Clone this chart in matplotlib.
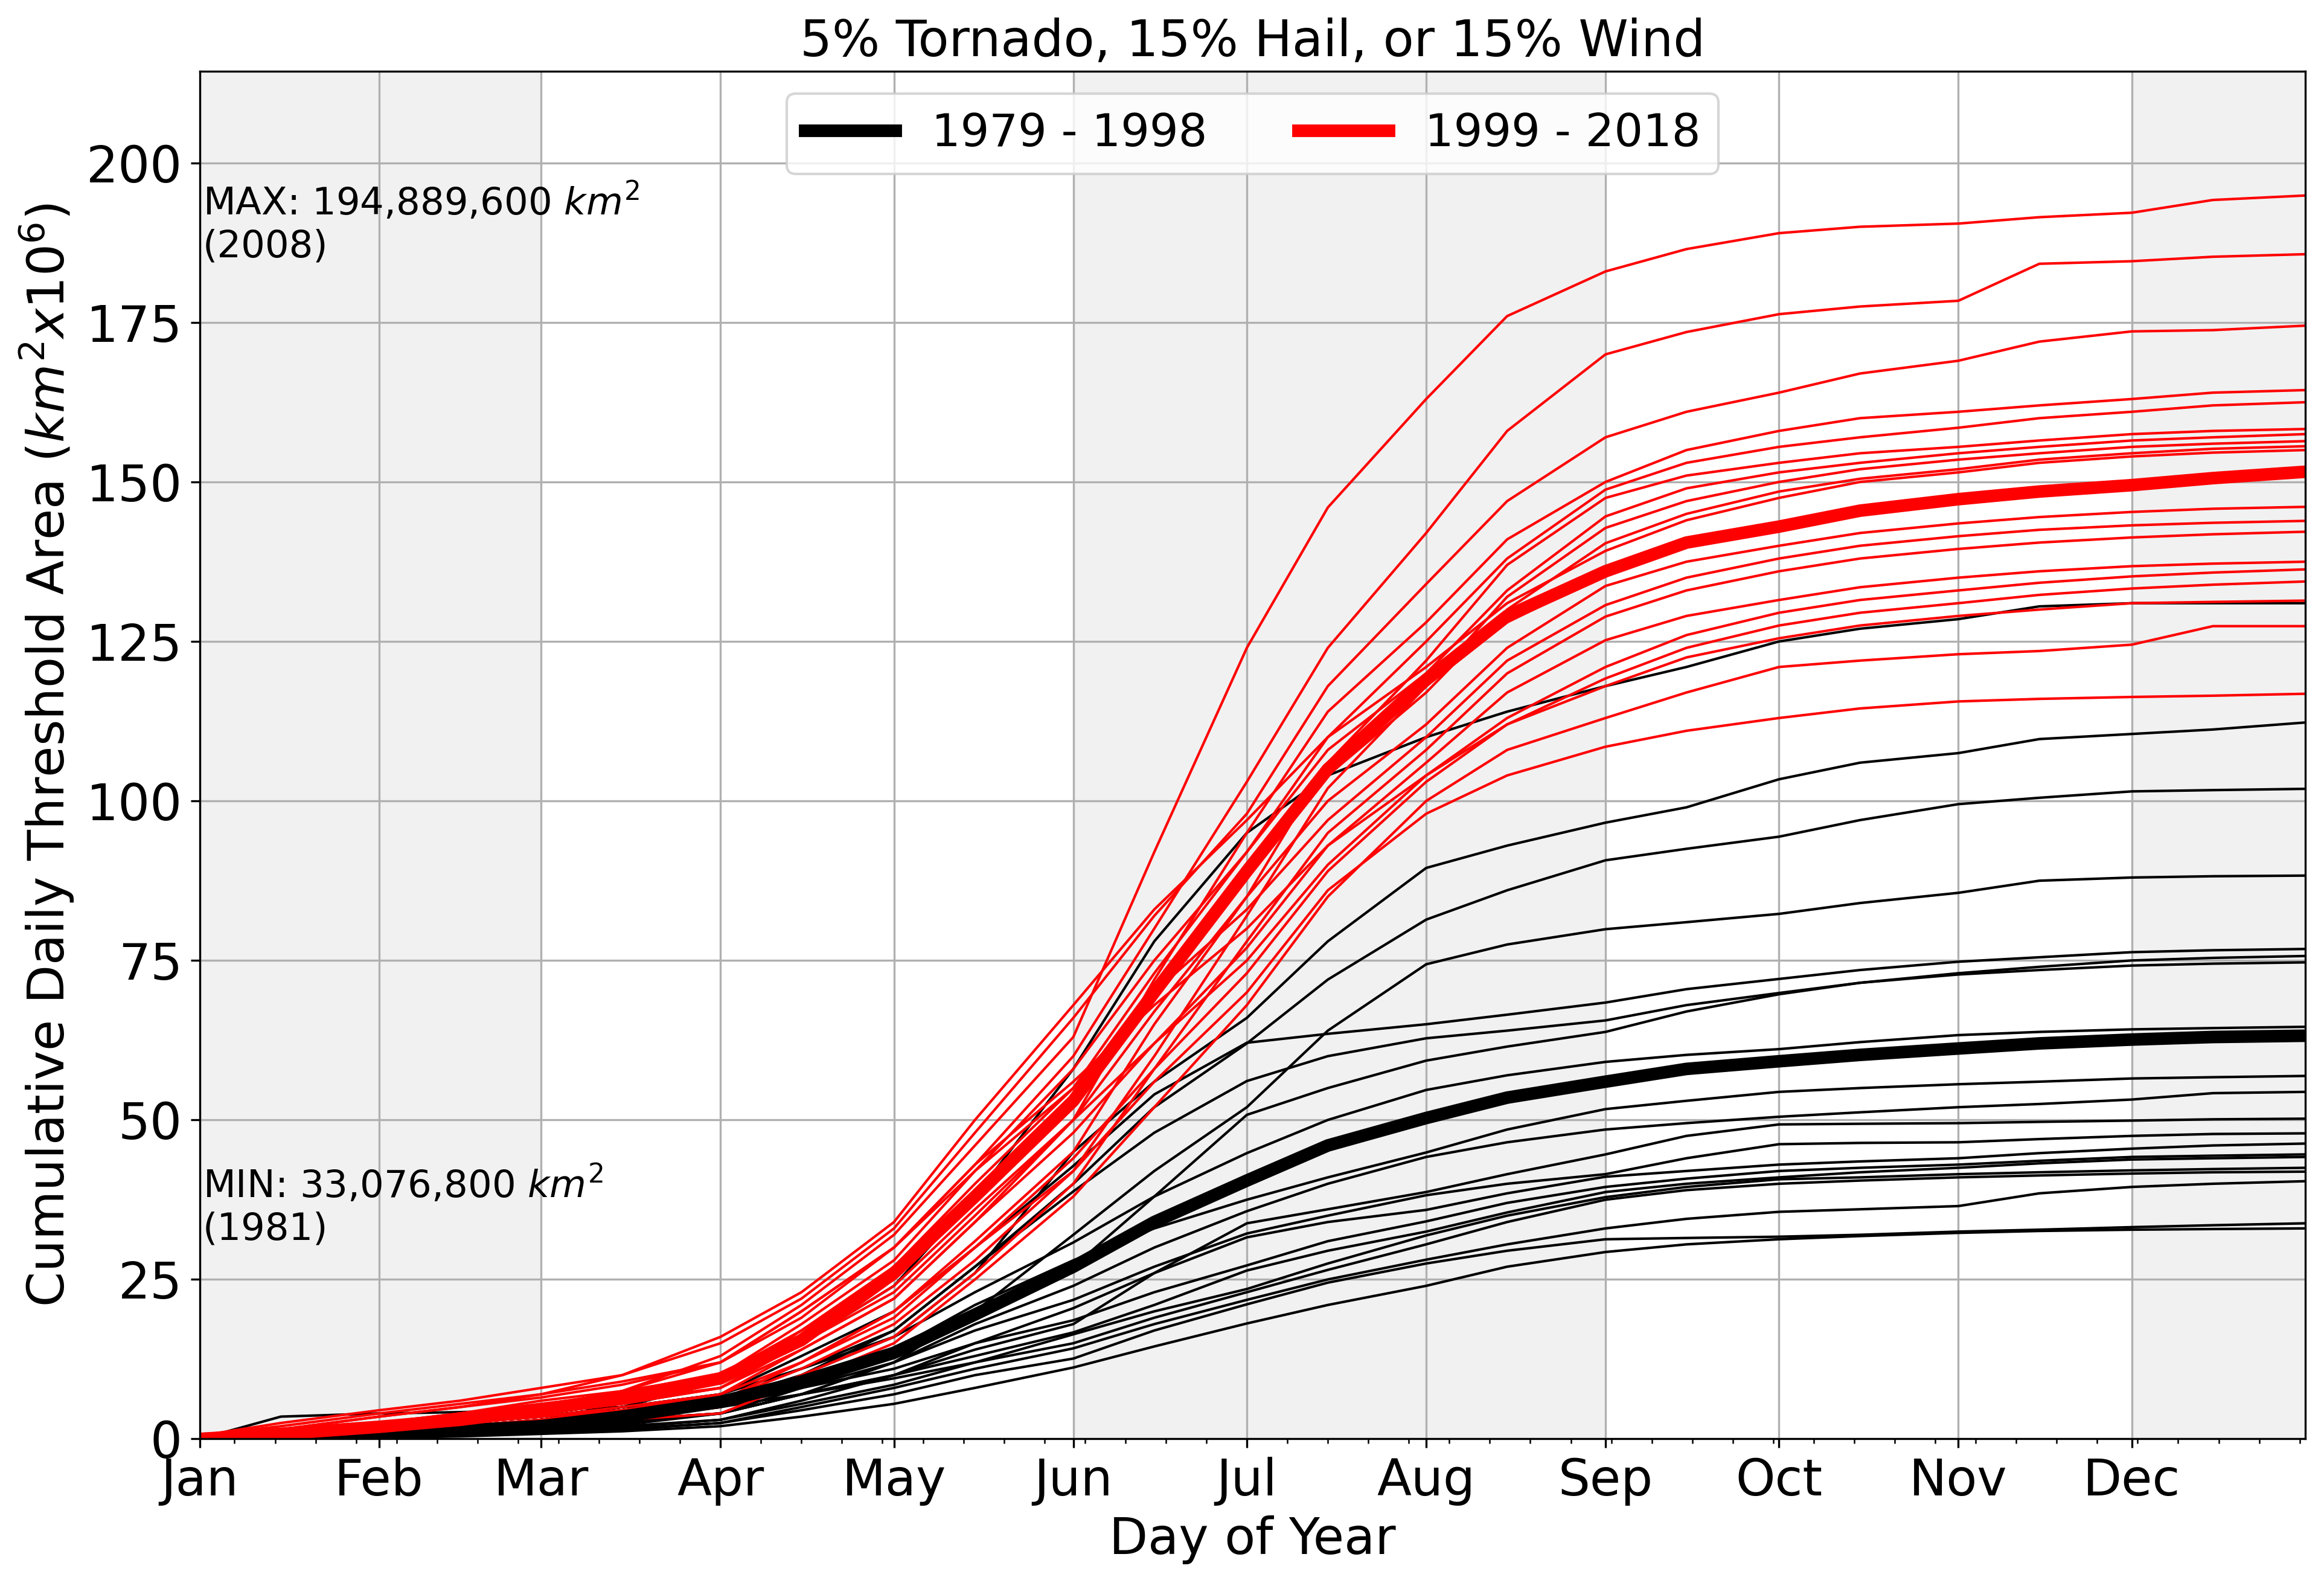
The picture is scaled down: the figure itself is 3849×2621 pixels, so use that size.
import matplotlib.pyplot as plt
from matplotlib.ticker import MultipleLocator

# day of year where each series is sampled (1st and mid of every month)
days = [1, 15, 32, 46, 60, 74, 91, 105, 121, 135, 152, 166, 182, 196,
        213, 227, 244, 258, 274, 288, 305, 319, 335, 349, 365]

month_days = [1, 32, 60, 91, 121, 152, 182, 213, 244, 274, 305, 335]
month_labels = ['Jan', 'Feb', 'Mar', 'Apr', 'May', 'Jun',
                'Jul', 'Aug', 'Sep', 'Oct', 'Nov', 'Dec']
shaded = [(1, 60), (152, 244), (335, 365)]

# 1979 - 1998 (km^2 x 10^6)
b01 = [0, 0.3, 1.0, 2.0, 3.0, 5.0, 9, 15, 24, 38, 58, 78, 95, 104, 110, 114, 118, 121, 125, 127, 128.5, 130.5, 131, 131, 131.0]
b02 = [0, 0.2, 0.6, 1.2, 2.0, 3.5, 6, 10, 16, 26, 45, 56, 66, 78, 89.5, 93, 96.6, 99, 103.4, 106, 107.5, 109.7, 110.5, 111.2, 112.3]
b03 = [0, 0.5, 1.5, 2.5, 3.5, 5.0, 7, 11, 17, 27, 40, 52, 62, 72, 81.4, 86, 90.7, 92.5, 94.4, 97, 99.5, 100.5, 101.5, 101.7, 101.9]
b04 = [0, 0.1, 0.4, 0.8, 1.5, 2.5, 4, 7, 12, 20, 32, 42, 52, 64, 74.4, 77.5, 79.9, 81, 82.3, 84, 85.6, 87.5, 88, 88.2, 88.3]
b05 = [0, 0.3, 1.0, 2.0, 3.0, 4.5, 7, 13, 20, 30, 42.8, 54, 62.1, 63.5, 65, 66.5, 68.4, 70.5, 72.1, 73.5, 74.8, 75.5, 76.3, 76.6, 76.8]
b06 = [0, 0.2, 0.6, 1.2, 2.0, 3.5, 6, 10, 17, 27, 38.8, 48, 56.1, 60, 62.8, 64, 65.6, 68, 69.9, 71.5, 73, 74, 75, 75.4, 75.7]
b07 = [0, 0.1, 0.3, 0.6, 1.2, 2.2, 4, 8, 13, 19, 27, 38, 50.8, 55, 59.3, 61.5, 63.8, 67, 69.7, 71.5, 72.8, 73.5, 74.2, 74.5, 74.7]
b08 = [0, 0.5, 1.5, 2.5, 3.5, 5.0, 7, 11, 16, 23, 30.8, 38, 44.8, 50, 54.7, 57, 59.1, 60.2, 61.1, 62.2, 63.3, 63.8, 64.2, 64.4, 64.6]
b09 = [0, 0.2, 0.5, 1.0, 1.8, 3.0, 5, 9, 14, 21, 28, 33, 37.5, 41, 44.9, 48.5, 51.7, 53, 54.4, 55, 55.6, 56, 56.5, 56.7, 56.9]
b10 = [0, 0.1, 0.3, 0.7, 1.2, 2.5, 4, 7, 12, 18, 24, 30, 35.7, 40, 44.2, 46.5, 48.5, 49.5, 50.5, 51.2, 52, 52.5, 53.2, 54.2, 54.4]
b11 = [0, 0.2, 0.5, 1.0, 2.0, 3.0, 4, 7, 10, 14, 18, 26, 33.8, 36, 38.7, 41.5, 44.6, 47.5, 49.3, 49.4, 49.5, 49.7, 49.9, 50.1, 50.2]
b12 = [0, 0.3, 0.8, 1.5, 2.5, 3.5, 5, 8, 12, 17, 21.8, 27, 32.2, 35, 38.2, 40, 41.5, 44, 46.2, 46.4, 46.5, 47, 47.5, 47.8, 47.9]
b13 = [0, 0.1, 0.3, 0.6, 1.0, 2.0, 3, 6, 10, 15, 20.5, 26, 31.6, 34, 35.9, 38.5, 41.1, 42, 43, 43.5, 44, 44.8, 45.5, 46, 46.3]
b14 = [0, 3.5, 4.0, 4.2, 4.5, 5.0, 6, 8, 11, 15, 18.6, 23, 27.2, 31, 34.1, 37, 39.5, 40.8, 42, 42.5, 43, 43.6, 44.2, 44.4, 44.6]
b15 = [0, 0.2, 0.6, 1.2, 2.0, 3.0, 4, 7, 10, 13, 16.7, 21, 26.4, 29.5, 32.5, 35.5, 38.7, 40, 41, 41.8, 42.5, 43.2, 43.8, 44, 44.2]
b16 = [0, 0.1, 0.3, 0.6, 1.0, 1.8, 3, 5.5, 8.5, 12, 16.4, 20, 23.5, 27.5, 31.9, 35, 37.9, 39.5, 40.7, 41, 41.5, 41.8, 42.1, 42.3, 42.5]
b17 = [0, 0.3, 1.0, 1.8, 2.5, 3.5, 5, 7, 9.5, 12, 15, 19, 23, 26.5, 30.5, 34, 37.5, 39, 40, 40.5, 41, 41.3, 41.6, 41.8, 41.9]
b18 = [0, 0.1, 0.2, 0.5, 1.0, 1.5, 2.5, 5, 8, 11, 14.2, 18, 21.8, 25, 28.1, 30.5, 33, 34.5, 35.6, 36, 36.5, 38.5, 39.5, 40, 40.4]
b19 = [0, 0.1, 0.3, 0.6, 1.0, 1.5, 2.5, 4.5, 7, 10, 12.6, 17, 21.1, 24.5, 27.5, 29.5, 31.3, 31.5, 31.7, 32, 32.5, 32.8, 33.2, 33.5, 33.8]
b20 = [0, 0.1, 0.2, 0.4, 0.8, 1.2, 2, 3.5, 5.5, 8, 11.2, 14.5, 18.1, 21, 24, 27, 29.3, 30.5, 31.3, 31.8, 32.3, 32.6, 32.8, 32.9, 33.0]
black_mean = [0, 0.3, 0.8, 1.3, 2.0, 3.5, 5.8, 9, 13.5, 19.5, 27, 34, 40.5, 46, 50.3, 53.5, 56, 58, 59.2, 60.2, 61.2, 62, 62.6, 63, 63.2]

# 1999 - 2018
r01 = [0, 1.0, 2.5, 3.5, 5.0, 7.5, 13, 21, 32, 46, 63, 92, 124, 146, 163, 176, 183, 186.5, 189, 190, 190.5, 191.5, 192.2, 194.2, 194.9]
r02 = [0, 0.5, 2.0, 3.0, 4.5, 7.5, 12, 19, 30, 43, 60, 80, 103, 124, 142, 158, 170, 173.5, 176.3, 177.5, 178.4, 184.2, 184.6, 185.3, 185.7]
r03 = [0.5, 2.0, 4.0, 5.5, 7.0, 10, 15, 22, 33, 48, 66, 82, 98, 118, 134, 147, 157, 161, 164, 167, 169, 172, 173.6, 173.8, 174.5]
r04 = [0, 0.5, 1.5, 3.0, 4.0, 5.5, 8, 14, 22, 34, 50, 72, 95, 114, 128, 141, 150, 155, 158, 160, 161, 162, 163, 164, 164.4]
r05 = [0, 1.0, 2.5, 4.0, 6.0, 7.5, 10, 18, 28, 42, 58, 75, 92, 110, 125, 138, 148.8, 153, 155.5, 157, 158.5, 160, 161, 162, 162.5]
r06 = [0, 0.3, 1.0, 2.0, 3.0, 4.5, 7, 12, 20, 31, 45, 65, 85, 106, 122, 137, 147.5, 151, 153, 154.5, 155.5, 156.5, 157.5, 158, 158.3]
r07 = [0, 1.5, 3.5, 5.0, 7.0, 9.0, 12, 20, 30, 42, 55, 73, 92, 108, 120, 133, 144.6, 149, 151.5, 153, 154.5, 155.5, 156.5, 157, 157.5]
r08 = [0, 0.2, 0.8, 1.5, 2.5, 4.0, 6, 11, 18, 28, 42, 60, 82, 102, 118, 132, 142.8, 147, 150, 152, 153.5, 154.5, 155.5, 156, 156.4]
r09 = [0, 0.8, 2.0, 3.5, 5.0, 6.5, 9, 16, 25, 37, 52, 70, 88, 104, 117, 130, 140.4, 145, 148.5, 150.5, 152, 153.5, 154.5, 155.2, 155.6]
r10 = [0.5, 2.5, 4.5, 6.0, 8.0, 10, 16, 23, 34, 50, 68, 83, 97, 110, 121, 131, 139.2, 144, 147.5, 150, 151.5, 153, 154, 154.6, 155.0]
r11 = [0, 0.8, 1.8, 3.0, 4.5, 6.5, 10, 17, 26, 39, 53, 71, 89, 105, 118, 128, 135.5, 140, 143, 145.5, 147, 148.5, 149.5, 150.3, 151.0]
r12 = [0, 0.5, 1.5, 2.5, 4.0, 5.5, 8, 15, 24, 36, 50, 67, 85, 100, 112, 124, 133.7, 137.5, 140, 142, 143.5, 144.5, 145.3, 145.8, 146.1]
r13 = [0, 1.0, 2.5, 4.0, 5.5, 7.0, 9, 17, 27, 40, 55, 70, 83, 97, 110, 122, 130.7, 135, 138, 140, 141.5, 142.5, 143.2, 143.6, 143.9]
r14 = [0, 0.2, 0.5, 1.0, 2.0, 3.0, 5, 10, 16, 26, 40, 58, 78, 95, 108, 120, 128.9, 133, 136, 138, 139.5, 140.5, 141.3, 141.8, 142.2]
r15 = [0, 0.5, 1.5, 2.5, 3.5, 5.0, 7, 14, 22, 34, 48, 62, 77, 93, 106, 117, 125.2, 129, 131.5, 133.5, 135, 136, 136.8, 137.2, 137.5]
r16 = [0.3, 1.5, 3.5, 5.0, 6.5, 8.5, 12, 20, 30, 43, 56, 68, 80, 93, 104, 113, 121, 126, 129.5, 131.5, 133, 134.2, 135.2, 135.8, 136.3]
r17 = [0, 0.3, 1.0, 2.0, 3.0, 4.5, 6, 12, 19, 30, 44, 58, 73, 89, 103, 112, 119.2, 124, 127.5, 129.5, 131, 132.3, 133.3, 133.9, 134.4]
r18 = [0, 0.5, 1.5, 3.0, 4.5, 6.0, 8, 15, 23, 35, 50, 62, 75, 90, 104, 112, 118, 122.5, 125.5, 127.5, 129, 130, 131, 131.2, 131.4]
r19 = [0, 0.2, 0.8, 1.5, 2.0, 3.0, 4, 9, 15, 25, 38, 52, 68, 85, 100, 108, 113, 117, 121, 122, 123, 123.5, 124.5, 127.4, 127.4]
r20 = [0, 0.5, 1.2, 2.5, 3.5, 4.5, 6, 12, 20, 30, 42, 56, 70, 86, 98, 104, 108.5, 111, 113, 114.5, 115.6, 116, 116.3, 116.5, 116.8]
red_mean = [0, 0.8, 1.9, 3.0, 4.6, 6.5, 9.5, 15.5, 26, 38, 53, 70, 89, 105, 119, 129, 136, 140.5, 143, 145.5, 147.3, 148.5, 149.5, 150.6, 151.6]

black_runs = [b01, b02, b03, b04, b05, b06, b07, b08, b09, b10,
              b11, b12, b13, b14, b15, b16, b17, b18, b19, b20]
red_runs = [r01, r02, r03, r04, r05, r06, r07, r08, r09, r10,
            r11, r12, r13, r14, r15, r16, r17, r18, r19, r20]

max_area = 194.8896
min_area = 33.0768

fig, ax = plt.subplots(figsize=(3849 / 300, 2621 / 300), dpi=300)
fig.subplots_adjust(left=0.086, right=0.992, bottom=0.091, top=0.955)

for start, end in shaded:
    ax.axvspan(start, end, color='0.945', lw=0, zorder=0)

for run in black_runs:
    ax.plot(days, run, color='k', lw=1.0)
for run in red_runs:
    ax.plot(days, run, color='r', lw=1.0)
ax.plot(days, black_mean, color='k', lw=5, label='1979 - 1998')
ax.plot(days, red_mean, color='r', lw=5, label='1999 - 2018')

ax.set_xlim(1, 365)
ax.set_ylim(0, max_area * 1.1)
ax.set_xticks(month_days)
ax.set_xticklabels(month_labels)
ax.xaxis.set_minor_locator(MultipleLocator(7))
ax.set_yticks(range(0, 201, 25))
ax.tick_params(labelsize=20)
ax.set_axisbelow(True)
ax.grid(True)

ax.text(1.5, 197.2, 'MAX: 194,889,600 $km^2$\n(2008)', fontsize=15, va='top')
ax.text(1.5, 43.2, 'MIN: 33,076,800 $km^2$\n(1981)', fontsize=15, va='top')

ax.set_title('5% Tornado, 15% Hail, or 15% Wind', fontsize=20)
ax.set_xlabel('Day of Year', fontsize=20)
ax.set_ylabel('Cumulative Daily Threshold Area ($km^2x10^6$)', fontsize=20)
ax.legend(loc='upper center', ncol=2, fontsize=18)

plt.savefig('out.png', dpi=300)
